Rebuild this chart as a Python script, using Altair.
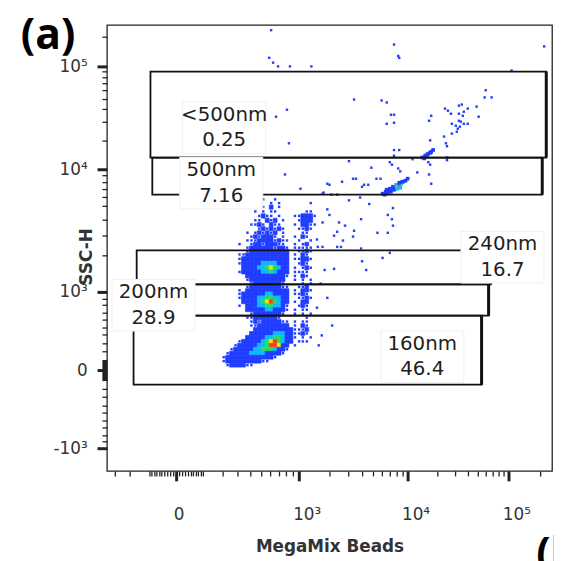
import altair as alt
import pandas as pd

# ---------------- axis scale anchors (biexponential-like display) ----------------
X_DOMAIN = [-359, 0, 1000, 10000, 100000, 262144]
X_RANGE = [0, 70, 194, 304, 406, 450]
Y_DOMAIN = [-1700, -1000, 0, 1000, 2000, 5000, 10000, 100000, 262144]
Y_RANGE = [451, 428, 349, 270, 232.7, 183.3, 146, 42, 0]

X_TICKS = [-300, -200, -100, -90, -80, -70, -60, -50, -40, -30, -20, -10, 0,
           10, 20, 30, 40, 50, 60, 70, 80, 90, 100, 200, 300, 400, 500, 600, 700, 800, 900,
           1000, 2000, 3000, 4000, 5000, 6000, 7000, 8000, 9000,
           10000, 20000, 30000, 40000, 50000, 60000, 70000, 80000, 90000, 100000, 200000]
Y_TICKS = [-1000, -900, -800, -700, -600, -500, -400, -300, -200, -100,
           -90, -80, -70, -60, -50, -40, -30, -20, -10, 0,
           10, 20, 30, 40, 50, 60, 70, 80, 90, 100, 200, 300, 400, 500, 600, 700, 800, 900,
           1000, 2000, 3000, 4000, 5000, 6000, 7000, 8000, 9000,
           10000, 20000, 30000, 40000, 50000, 60000, 70000, 80000, 90000, 100000, 200000]

# ---------------- density map of the bead clusters (binned events) ----------------
X_EDGES = [196, 219, 244, 270, 298, 328, 359, 392, 427, 463, 502, 543, 587, 632, 681,
           732, 786, 843, 904, 968, 1049, 1151, 1261, 1380, 1509]
Y_EDGES = [5946, 5520, 5125, 4758, 4418, 4102, 3807, 3535, 3282, 3047, 2829, 2627, 2438,
           2264, 2102, 1951, 1812, 1682, 1562, 1450, 1346, 1250, 1160, 1077, 1000, 939,
           880, 821, 764, 707, 652, 599, 546, 494, 443, 394, 345, 297, 251, 205, 160, 116,
           73, 31, -10]
# ' ' empty, '.' sparse events, 1..5 density level (blue -> red)
DENSITY = [
    "    |    |  . | .  |    |    ",
    "    |    | .  |. . |    |  . ",
    "    |    |  . |1 . |    |    ",
    "    |    |. . |..  |    | .. ",
    "    |    | .1.|. . |  ..|111.",
    "    |    |.. 1|.1 .|   .|111 ",
    "    |   .|.1. |1.. |  . |11..",
    "    |    | .1.|1.1.|   .|.1. ",
    "    |  . |.1.1|.1 .|    |..  ",
    "    |   .|1.11|1. .|  . |1.  ",
    "    |  ..|.111|1.1.|.  .|  . ",
    "    |.  .|11.1|11..|  . |.1  ",
    "    |  .1|1111|1.11|. ..|... ",
    "    |  .1|1111|1111|1  .|.1. ",
    "    |..11|1111|1111|1 . |1.  ",
    "    |.111|1111|1111|1 ..|11. ",
    "    |.111|1122|2211|1  .|1.  ",
    "    | 111|1223|4321|1 . |.1. ",
    "    |.111|1122|3211|1 ..|..  ",
    "    |  11|1111|1111|. . |1.  ",
    "    |  .1|1111|1111|  . |. . ",
    "    |   .|1111|111.|    |. . ",
    "    |  .1|1111|111.|.  .|.1  ",
    "    |. 11|1111|1111|1 . |11. ",
    "    |.111|1112|2111|1 ..|1.  ",
    "    |.111|1223|3221|1  .|.1. ",
    "    | 111|1234|5321|1 . |11  ",
    "    |. 11|1223|3221|.  .|1.  ",
    "    |  11|1112|2111|. . |..  ",
    "    |   .|1111|111.|  . |. . ",
    "    |  ..|1111|11. |    | .  ",
    "    |   .|1.11|111.|. . |..  ",
    "    |   .|.111|1111|1 . |1.  ",
    "    |    |1111|1111|11..|.1  ",
    "    |   1|1111|1222|11..|1.  ",
    "    |  11|1112|2332|11. |. . ",
    "    |.111|1123|4532|11 .|..  ",
    "   .|1111|1223|5541|1 . |    ",
    "  .1|1111|2233|3211|.   |    ",
    " .11|1112|2221|111.|    |    ",
    ".111|1111|1111|1.  |    |    ",
    ".111|1111|11..|    |    |    ",
    " .11|11..|    |    |    |    ",
    "    |    |    |    |    |    ",
]

# ---------------- 500nm bead populations (events) ----------------
BLOB_X = [6050, 6445, 6862, 7305, 7777, 8110, 8456, 8818, 9197, 9590, 10000,
          6310, 6720, 7154, 7617, 8110, 8636, 7459, 7943, 8456, 9004, 7006, 6580,
          14030, 14680, 15010, 15710, 16070, 16810, 17190, 17980, 15360]
BLOB_Y = [6405, 6645, 6770, 7028, 7293, 7430, 7568, 7711, 8003, 8153, 8460,
          6286, 6525, 6645, 6897, 7028, 7159, 7293, 7568, 7856, 8003, 7028, 6897,
          13340, 13050, 13940, 14250, 14570, 14900, 15230, 15920, 13630]
BLOB_LEVEL = [1, 1, 1, 2, 3, 4, 5, 3, 2, 1, 1,
              1, 1, 1, 1, 2, 2, 1, 2, 1, 1, 1, 1,
              1, 1, 1, 1, 1, 1, 1, 1, 1]

# ---------------- isolated events ----------------
SCATTER_X = [609, 7620, 8280, 8450, 220300, 107000, 587, 632, 693, 858, 1340,
             59600, 58200, 68100, 48500, 50800, 32400, 34600, 39600, 36200, 23600, 25200,
             27000, 17200, 16400, 32400, 35400, 32400, 39600, 36200, 27600, 30200, 31600,
             3370, 5930, 6580, 7160, 7620, 7620, 6580, 814, 668, 843, 16800, 23100, 24100,
             24700, 27600, 30900, 33100, 33800, 16100, 16800, 24700, 24700, 16400, 17200,
             12500, 11200, 7620, 8450, 7620, 3030, 4810, 7000, 7300, 8280, 8630, 786, 1040,
             1910, 1760, 2000, 2620, 3300, 3510, 4150, 4520, 5340, 5800, 3980, 1720, 2080,
             2360, 3030, 3820, 4610, 7460, 6720, 7300, 7460, 6720, 5450, 3300, 3900, 2460,
             2360, 2790, 1910, 2000, 1720, 1520, 1550, 1720, 2360, 2560, 3900, 3980, 6050,
             7000, 2210, 1800, 4330, 3370, 2670, 2210, 1650, 1910, 1520, 2120, 1690, 1580]
SCATTER_Y = [231700, 166300, 127600, 122100, 159200, 91600, 122100, 109200, 100000, 100000, 100000,
             60100, 51500, 51500, 42200, 33800, 43100, 44100, 40400, 37700, 40400, 38600,
             36100, 34500, 30900, 36100, 34500, 30900, 28900, 28900, 28900, 27700, 25900,
             49200, 48200, 46100, 35300, 35300, 29600, 28900, 39400, 33800, 18600, 19900, 21700, 18600,
             17400, 23200, 24200, 27100, 30300, 11900, 11200, 13300, 12500, 9120, 7710,
             9460, 12800, 15900, 15900, 13900, 12200, 10400, 11900, 11200, 10200, 9640, 9120, 7030,
             7710, 6530, 7570, 8000, 8450, 8450, 7570, 7570, 8450, 8450, 7290, 6400, 6290,
             6290, 5620, 5940, 5220, 4850, 4330, 4030, 3600, 3160, 3160, 2940, 4030, 3810,
             3220, 3600, 4750, 4330, 3810, 2780, 2390, 2390, 2390, 2390, 2310, 1810, 1910,
             2100, 1590, 1560, 1560, 3280, 2720, 2990, 1200, 909, 764, 520, 394, 274]

# ---------------- gates ----------------
GATE_NAME = ["<500nm", "500nm", "240nm", "200nm", "160nm"]
GATE_PCT = ["0.25", "7.16", "16.7", "28.9", "46.4"]
GATE_X_MIN = [-95, -87, -162, -179, -179]
GATE_X_MAX = [230700, 211000, 66700, 63700, 54300]
GATE_Y_MIN = [13300, 6290, 1180, 652, -158]
GATE_Y_MAX = [89500, 13300, 2220, 1180, 652]
LABEL_X = [210, 193, 87300, -82, 14000]
LABEL_Y = [26500, 7780, 1930, 799, 144]

LEVEL_COLORS = ["#1f3cff", "#12b6ff", "#2bdc5a", "#ece40c", "#ff3a10"]

# ---------------- build tables ----------------
cells, dots = [], []
for r, row in enumerate(DENSITY):
    row = row.replace("|", "")
    for c, ch in enumerate(row):
        if ch == " ":
            continue
        x0, x1 = X_EDGES[c], X_EDGES[c + 1]
        y_top, y_bot = Y_EDGES[r], Y_EDGES[r + 1]
        if ch == ".":
            dots.append({"x": (x0 + x1) / 2, "y": (y_top + y_bot) / 2})
        else:
            cells.append({"x0": x0, "x1": x1, "y0": y_bot, "y1": y_top, "level": int(ch)})
for x, y in zip(SCATTER_X, SCATTER_Y):
    dots.append({"x": x, "y": y})

cells_df = pd.DataFrame(cells)
dots_df = pd.DataFrame(dots)
blob_df = pd.DataFrame({"x": BLOB_X, "y": BLOB_Y, "level": BLOB_LEVEL})
gates_df = pd.DataFrame({"name": GATE_NAME, "pct": GATE_PCT, "xmin": GATE_X_MIN, "xmax": GATE_X_MAX,
                         "ymin": GATE_Y_MIN, "ymax": GATE_Y_MAX, "lx": LABEL_X, "ly": LABEL_Y})

xs = alt.Scale(type="symlog", constant=220, domain=X_DOMAIN, range=X_RANGE, nice=False, zero=False)
ys = alt.Scale(type="symlog", constant=2000, domain=Y_DOMAIN, range=Y_RANGE, nice=False, zero=False)
cs = alt.Scale(domain=[1, 2, 3, 4, 5], range=LEVEL_COLORS)

MAJ_X = "indexof([0, 1000, 10000, 100000], datum.value) >= 0"
MAJ_Y = "indexof([-1000, 0, 1000, 10000, 100000], datum.value) >= 0"

x_axis = alt.Axis(
    values=X_TICKS, grid=False, domain=False, title="MegaMix Beads",
    labelExpr="datum.value === 0 ? '0' : datum.value === 1000 ? '10³' : datum.value === 10000 ? '10⁴' : datum.value === 100000 ? '10⁵' : ''",
    labelOverlap=False, labelFlush=False, labelPadding=26, labelOffset=8,
    labelAlign={"condition": {"test": "datum.value === 0", "value": "right"}, "value": "center"},
    labelFont="DejaVu Sans", labelFontSize=17, labelColor="#333",
    tickSize=10, tickColor="#222",
    tickWidth={"condition": {"test": MAJ_X, "value": 3}, "value": 1.3},
    tickDash={"condition": {"test": MAJ_X, "value": [12, 0]}, "value": [5, 20]},
    titleFont="DejaVu Sans", titleFontSize=17, titleFontWeight="bold", titleColor="#333",
    titleY=76, titleBaseline="middle",
)
y_axis = alt.Axis(
    values=Y_TICKS, grid=False, domain=False, title="SSC-H",
    labelExpr="datum.value === 0 ? '0' : datum.value === 1000 ? '10³' : datum.value === 10000 ? '10⁴' : datum.value === 100000 ? '10⁵' : datum.value === -1000 ? '-10³' : ''",
    labelOverlap=False, labelFlush=False, labelPadding=10,
    labelFont="DejaVu Sans", labelFontSize=17, labelColor="#333",
    tickSize=10, tickColor="#222",
    tickWidth={"condition": {"test": MAJ_Y, "value": 3}, "value": 1.3},
    tickDash={"condition": {"test": MAJ_Y, "value": [12, 0]}, "value": [5, 20]},
    titleFont="DejaVu Sans", titleFontSize=17, titleFontWeight="bold", titleColor="#333",
    titleX=-21, titleY=234, titleAngle=270, titleAlign="center", titleBaseline="middle",
)


def X(field):
    return alt.X(field, scale=xs, axis=x_axis)


def Y(field):
    return alt.Y(field, scale=ys, axis=y_axis)


cells_layer = alt.Chart(cells_df).mark_rect(strokeWidth=0.6).encode(
    x=X("x0:Q"), x2="x1:Q", y=Y("y0:Q"), y2="y1:Q",
    color=alt.Color("level:O", scale=cs, legend=None),
    stroke=alt.Stroke("level:O", scale=cs, legend=None),
)
dots_layer = alt.Chart(dots_df).mark_square(size=6, color="#2340ff", opacity=1).encode(
    x=X("x:Q"), y=Y("y:Q"))
blob_layer = alt.Chart(blob_df).mark_square(size=14, opacity=1).encode(
    x=X("x:Q"), y=Y("y:Q"), color=alt.Color("level:O", scale=cs, legend=None))
gates_layer = alt.Chart(gates_df).mark_rect(fillOpacity=0, stroke="#111", strokeWidth=1.8).encode(
    x=X("xmin:Q"), x2="xmax:Q", y=Y("ymin:Q"), y2="ymax:Q")
gate_edge_layer = alt.Chart(gates_df).mark_rule(color="#111", strokeWidth=3).encode(
    x=X("xmax:Q"), y=Y("ymin:Q"), y2="ymax:Q")
boxes_layer = alt.Chart(gates_df).mark_point(
    shape="M-1,-0.62L1,-0.62L1,0.62L-1,0.62Z", size=7056, filled=True, fill="white",
    stroke="#f0f0f0", strokeWidth=1, opacity=1).encode(x=X("lx:Q"), y=Y("ly:Q"))
name_layer = alt.Chart(gates_df).mark_text(font="DejaVu Sans", fontSize=20, color="#1e1e1e", dy=-13).encode(
    x=X("lx:Q"), y=Y("ly:Q"), text="name:N")
pct_layer = alt.Chart(gates_df).mark_text(font="DejaVu Sans", fontSize=20, color="#1e1e1e", dy=13).encode(
    x=X("lx:Q"), y=Y("ly:Q"), text="pct:N")

panel_a = alt.Chart(pd.DataFrame({"t": ["(a)"]})).mark_text(
    font="Open Sans", fontSize=43, fontWeight="bold", color="#000", align="left", baseline="alphabetic"
).encode(x=alt.value(-87), y=alt.value(24), text="t:N")
panel_b = alt.Chart(pd.DataFrame({"t": ["(b)"]})).mark_text(
    font="Open Sans", fontSize=43, fontWeight="bold", color="#000", align="left", baseline="alphabetic"
).encode(x=alt.value(434), y=alt.value(549), text="t:N")

chart = alt.layer(
    cells_layer, dots_layer, blob_layer, gates_layer, gate_edge_layer, boxes_layer,
    name_layer, pct_layer, panel_a, panel_b
).properties(
    width=450, height=451,
    padding={"left": 100, "top": 14, "right": 2, "bottom": 88},
    autosize=alt.AutoSizeParams(type="none"),
).configure_view(stroke="#222", strokeWidth=1.3)

chart.save("out.html", embed_options={"renderer": "svg", "actions": False})
